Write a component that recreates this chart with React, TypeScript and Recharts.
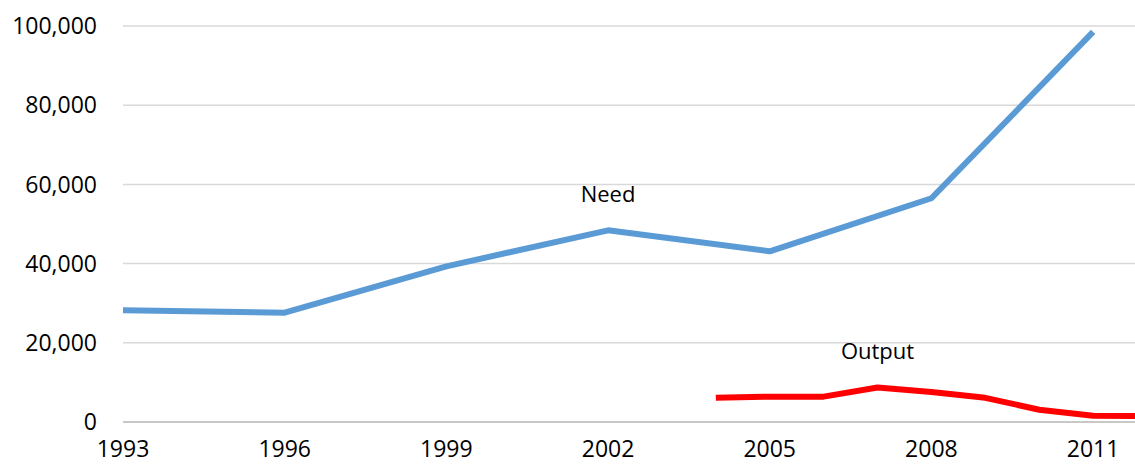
import React from "react";
import {
  LineChart,
  Line,
  XAxis,
  YAxis,
  CartesianGrid,
  LabelList,
} from "recharts";

const needYears = [1993, 1996, 1999, 2002, 2005, 2008, 2011];
const needValues = [28200, 27600, 39300, 48400, 43100, 56500, 98500];

const outputYears = [2004, 2005, 2006, 2007, 2008, 2009, 2010, 2011, 2012];
const outputValues = [6100, 6400, 6400, 8700, 7600, 6100, 3100, 1600, 1500];

const xTicks = [1993, 1996, 1999, 2002, 2005, 2008, 2011];
const yTicks = [0, 20000, 40000, 60000, 80000, 100000];

const needData = needYears.map((year, i) => ({ year, value: needValues[i] }));
const outputData = outputYears.map((year, i) => ({ year, value: outputValues[i] }));

const font = "'Open Sans', sans-serif";

const makeLabel = (text: string, atYear: number, data: { year: number }[]) =>
  (props: any) => {
    const { x, y, index } = props;
    if (data[index]?.year !== atYear) return null;
    return (
      <text
        x={x}
        y={y - 34}
        textAnchor="middle"
        dominantBaseline="middle"
        fontFamily={font}
        fontSize={22}
        fill="#000"
      >
        {text}
      </text>
    );
  };

export default function App() {
  return (
    <div
      style={{
        position: "fixed",
        left: 0,
        top: 0,
        width: 1135,
        height: 465,
        overflow: "hidden",
        background: "#fff",
      }}
    >
      <LineChart
        width={1160}
        height={465}
        margin={{ top: 26, right: 13, left: 0, bottom: 0 }}
      >
        <CartesianGrid vertical={false} stroke="#d9d9d9" strokeWidth={1.5} />
        <XAxis
          dataKey="year"
          type="number"
          domain={[1993, 2012]}
          ticks={xTicks}
          allowDuplicatedCategory={false}
          height={43}
          tickLine={false}
          tickSize={0}
          tickMargin={19}
          axisLine={{ stroke: "#bfbfbf", strokeWidth: 1.5 }}
          tick={{ fill: "#000", fontSize: 23, fontFamily: font }}
        />
        <YAxis
          domain={[0, 100000]}
          ticks={yTicks}
          width={123}
          tickLine={false}
          tickSize={0}
          tickMargin={26}
          axisLine={false}
          tickFormatter={(v: number) => v.toLocaleString("en-US")}
          tick={{ fill: "#000", fontSize: 23, fontFamily: font }}
        />
        <Line
          data={needData}
          dataKey="value"
          stroke="#5b9bd5"
          strokeWidth={6}
          dot={false}
          isAnimationActive={false}
          strokeLinejoin="round"
        >
          <LabelList dataKey="value" content={makeLabel("Need", 2002, needData)} />
        </Line>
        <Line
          data={outputData}
          dataKey="value"
          stroke="#ff0000"
          strokeWidth={6}
          dot={false}
          isAnimationActive={false}
          strokeLinejoin="round"
        >
          <LabelList dataKey="value" content={makeLabel("Output", 2007, outputData)} />
        </Line>
      </LineChart>
    </div>
  );
}
